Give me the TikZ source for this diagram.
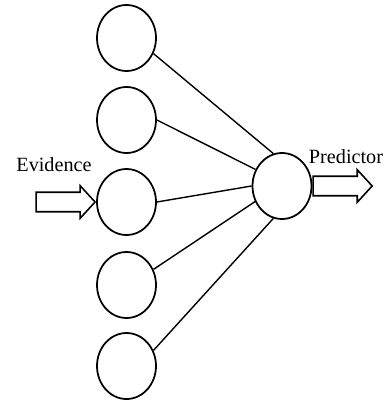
\documentclass[tikz,border=0pt]{standalone}
\usepackage{fontspec}
\setmainfont{Liberation Serif}
\usetikzlibrary{positioning,shapes.geometric,shapes.arrows}

\begin{document}
\begin{tikzpicture}[x=0.02cm, y=-0.02cm,
    unit/.style={draw, ellipse, line width=1pt, minimum width=1.18cm, minimum height=1.32cm, inner sep=0pt},
    link/.style={line width=0.8pt},
    flow/.style={draw, single arrow, line width=0.9pt, inner sep=0.18cm, minimum height=1.18cm,
                 single arrow head extend=0.13cm, single arrow tip angle=95},
    tag/.style={font=\fontsize{11.5}{13}\selectfont, inner sep=0pt},
]
\useasboundingbox (0,0) rectangle (390,402);
\foreach \i/\y in {1/38, 2/120, 3/202, 4/285, 5/366} {
  \node[unit] (in\i) at (126.5,\y) {};
}
\node[unit] (out) at (282,186) {};
\foreach \i/\a/\b in {1/-30/105, 2/0/148, 3/0/180, 4/30/210, 5/30/255} {
  \draw[link] (in\i.\a) -- (out.\b);
}
\node[flow, anchor=tip] (evid) at (in3.west) {};
\node[flow, anchor=tail] (pred) at (out.east) {};
\node[tag] at (54,165) {Evidence};
\node[tag] at (346,157) {Predictor};
\end{tikzpicture}
\end{document}
